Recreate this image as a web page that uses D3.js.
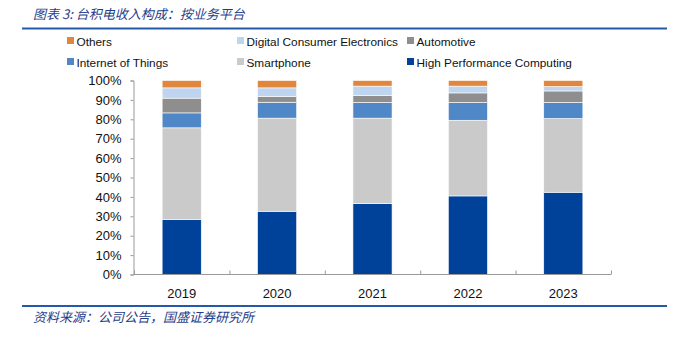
<!DOCTYPE html>
<html lang="zh">
<head>
<meta charset="UTF-8">
<title>台积电收入构成</title>
<style>
    body { margin: 0; background: #fff; }
    .cn { font-family: "Noto Sans CJK SC", sans-serif; font-style: italic; fill: #1f3d8a; font-size: 13px; }
    .lbl { font-family: "Liberation Sans", Arial, sans-serif; font-size: 13px; fill: #111; }
    .leg { font-family: "Liberation Sans", Arial, sans-serif; font-size: 11.8px; fill: #111; }
</style>
</head>
<body>
<svg id="chart"></svg>
<script src="https://cdnjs.cloudflare.com/ajax/libs/d3/7.8.5/d3.min.js"></script>
<script>
var years = ["2019", "2020", "2021", "2022", "2023"];
var seriesNames = ["High Performance Computing", "Smartphone", "Internet of Things",
                   "Automotive", "Digital Consumer Electronics", "Others"];
var hpc = [28.4, 32.6, 36.6, 40.5, 42.4];
var smartphone = [47.2, 48.0, 44.0, 39.0, 38.0];
var iot = [7.7, 8.2, 8.1, 9.2, 8.3];
var automotive = [7.6, 3.0, 3.5, 4.9, 5.9];
var dce = [5.3, 4.4, 4.9, 3.5, 2.3];
var others = [3.8, 3.8, 2.9, 2.9, 3.1];
var yTicks = [0, 10, 20, 30, 40, 50, 60, 70, 80, 90, 100];

var colors = ["#00419a", "#cacaca", "#4f87c7", "#8e8e8e", "#bfd4ee", "#e0873d"];
var legendOrder = [5, 4, 3, 2, 1, 0];

var W = 674, H = 337;
var svg = d3.select("#chart").attr("width", W).attr("height", H);

// title + rules
svg.append("text").attr("class", "cn").attr("x", 33).attr("y", 19)
    .text("图表 3:  台积电收入构成：按业务平台");
svg.append("line").attr("x1", 22).attr("x2", 667).attr("y1", 28.5).attr("y2", 28.5)
    .attr("stroke", "#2458a8").attr("stroke-width", 2);
svg.append("line").attr("x1", 22).attr("x2", 667).attr("y1", 306).attr("y2", 306)
    .attr("stroke", "#2458a8").attr("stroke-width", 2);
svg.append("text").attr("class", "cn").attr("x", 33).attr("y", 322)
    .text("资料来源：公司公告，国盛证券研究所");

// data table
var table = years.map(function(y, i) {
    return {year: y, s0: hpc[i], s1: smartphone[i], s2: iot[i], s3: automotive[i], s4: dce[i], s5: others[i]};
});
var stack = d3.stack().keys(["s0", "s1", "s2", "s3", "s4", "s5"])(table);

var x = d3.scaleBand().domain(years).range([134, 611]).paddingInner(0.59).paddingOuter(0.295);
var xt = d3.scaleBand().domain(years).range([134, 611]);
var y = d3.scaleLinear().domain([0, 100]).range([274.5, 80.5]);

svg.append("g").selectAll("g").data(stack).join("g")
    .attr("fill", function(d, i) { return colors[i]; })
    .selectAll("rect").data(function(d) { return d; }).join("rect")
    .attr("x", function(d) { return x(d.data.year); })
    .attr("width", x.bandwidth())
    .attr("y", function(d) { return y(d[1]); })
    .attr("height", function(d) { return y(d[0]) - y(d[1]); })
    .attr("stroke", "#fff").attr("stroke-width", 0.6);

// y axis
var yAxis = svg.append("g").attr("transform", "translate(133.5,0)")
    .call(d3.axisLeft(y).tickValues(yTicks).tickSize(3).tickSizeOuter(3)
        .tickFormat(function(d) { return d + "%"; }));
yAxis.select(".domain").attr("stroke", "#999");
yAxis.selectAll(".tick line").attr("stroke", "#999");
yAxis.selectAll("text").attr("class", "lbl").attr("dx", -6).attr("fill", "#111");

// x axis
var xAxis = svg.append("g").attr("transform", "translate(0,274.5)");
xAxis.append("line").attr("x1", 134).attr("x2", 611).attr("stroke", "#999");
xAxis.selectAll(".xt").data(years.concat(["end"])).join("line")
    .attr("x1", function(d, i) { return 134.5 + xt.step() * i; })
    .attr("x2", function(d, i) { return 134.5 + xt.step() * i; })
    .attr("y1", 0).attr("y2", -4).attr("stroke", "#999");
xAxis.selectAll("text").data(years).join("text")
    .attr("class", "lbl").attr("text-anchor", "middle")
    .attr("x", function(d) { return xt(d) + xt.bandwidth() / 2; })
    .attr("y", 23).text(function(d) { return d; });

// legend
var legX = [67, 237, 407], legY = [41, 62];
var leg = svg.append("g").selectAll("g").data(legendOrder).join("g")
    .attr("transform", function(d, i) { return "translate(" + legX[i % 3] + "," + legY[Math.floor(i / 3)] + ")"; });
leg.append("rect").attr("x", 0).attr("y", -4).attr("width", 7).attr("height", 7)
    .attr("fill", function(d) { return colors[d]; });
leg.append("text").attr("class", "leg").attr("x", 9.5).attr("y", 4.5)
    .text(function(d) { return seriesNames[d]; });
</script>
</body>
</html>
